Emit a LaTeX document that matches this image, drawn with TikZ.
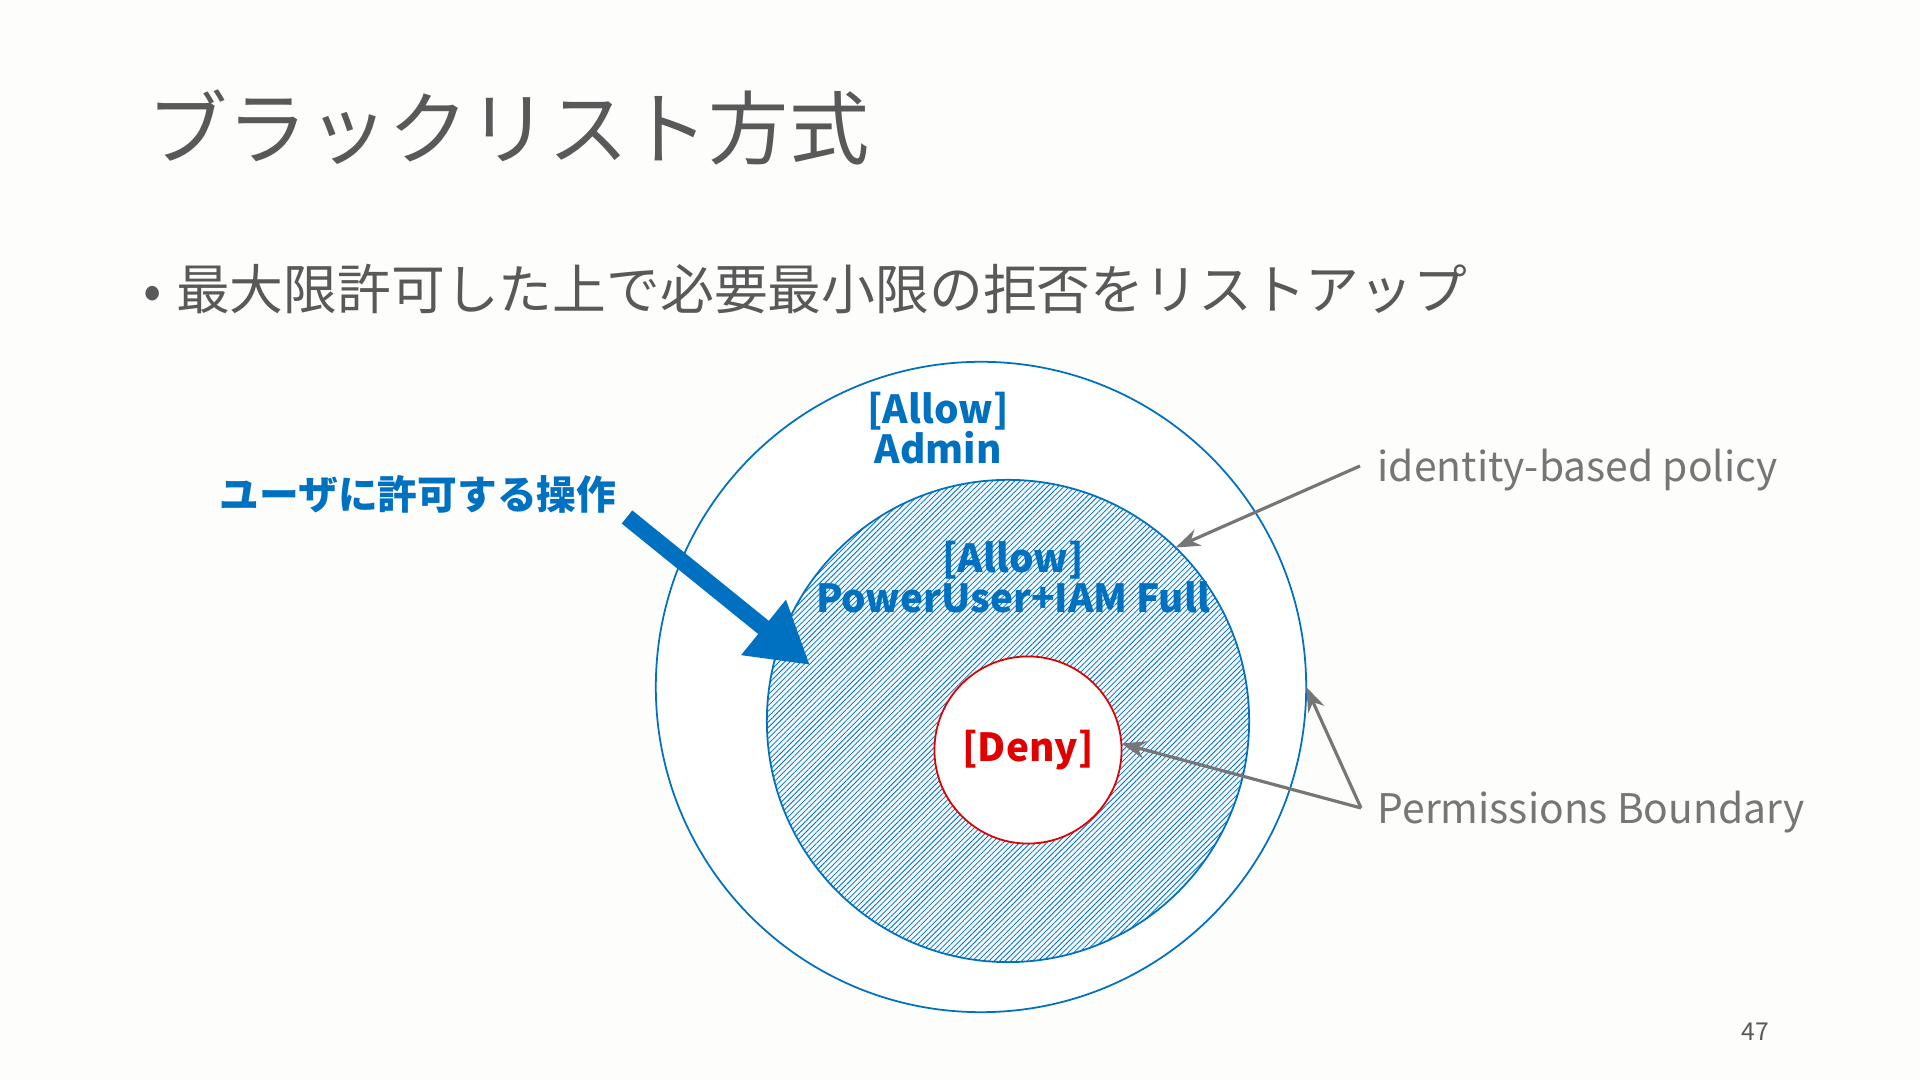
\documentclass[tikz,border=0pt]{standalone}
\usepackage{fontspec}
\setmainfont{Noto Sans CJK JP}
\usepackage{xcolor}
\usepackage{tikz}
\usetikzlibrary{arrows.meta,positioning,patterns.meta}
\definecolor{pptblue}{HTML}{0070C0}
\definecolor{pptred}{HTML}{E00000}
\definecolor{pptgray}{HTML}{595959}
\definecolor{notegray}{HTML}{767676}
\definecolor{slidebg}{HTML}{FDFDFB}

\begin{document}
\begin{tikzpicture}[
    x=0.01cm, y=-0.01cm,
    ring/.style={circle, draw=pptblue, line width=0.5pt, inner sep=0pt, outer sep=0pt},
    bluetext/.style={text=pptblue, font=\fontsize{11}{11.5}\selectfont\bfseries, align=center, inner sep=0pt},
    note/.style={text=notegray, font=\fontsize{11.6}{13}\selectfont, anchor=west, inner sep=0pt},
    pointer/.style={-{Stealth[length=7pt,width=5pt]}, draw=notegray, line width=0.9pt},
]
% Slide
\fill[slidebg] (0,0) rectangle (1920,1080);
\useasboundingbox (0,0) rectangle (1920,1080);

% Title and bullet
\node[anchor=west, inner sep=0pt, text=pptgray, font=\fontsize{22.8}{27}\selectfont] (title) at (147,128) {ブラックリスト方式};
\node[anchor=west, inner sep=0pt, text=pptgray, font=\fontsize{15.3}{18}\selectfont] (bullet) at (143,289) {•\hspace{4pt}最大限許可した上で必要最小限の拒否をリストアップ};

% Circles
\node[ring, fill=white, minimum size=6.5cm] (outer) at (981,687) {};
\node[ring, minimum size=4.82cm, preaction={fill=pptblue!5}, pattern={Lines[angle=45,distance=1.1pt,line width=0.22pt]}, pattern color=pptblue] (inner) at (1008,721) {};
\node[ring, draw=pptred, fill=white, minimum size=1.87cm] (deny) at (1028,750) {};

% Circle labels
\node[bluetext] (allowadmin) at (938,428) {[Allow]\\Admin};
\node[bluetext] (allowpower) at (1013,577) {[Allow]\\PowerUser+IAM Full};
\node[bluetext, text=pptred] (denytext) at (deny) {[Deny]};

% User arrow
\node[bluetext, anchor=east, font=\fontsize{11.3}{12}\selectfont\bfseries] (userlabel) at (617,494) {ユーザに許可する操作};
\coordinate (userfrom) at (627,517);
\coordinate (userto) at (810,665);
\draw[draw=pptblue, line width=4.8pt, -{Triangle[length=17pt,width=19pt]}] (userfrom) -- (userto);

% Policy notes
\node[note] (idlabel) at (1377,470) {identity-based policy};
\node[note] (pblabel) at (1377,812) {Permissions Boundary};
\coordinate (idfrom) at (1360,466);
\coordinate (pbfrom) at (1361,808);
\draw[pointer] (idfrom) -- (inner.46);
\draw[pointer] (pbfrom) -- (outer.0);
\draw[pointer] (pbfrom) -- (deny.4);

% Page number
\node[text=pptgray, font=\fontsize{7}{8}\selectfont, inner sep=0pt] (pagenum) at (1755,1032) {47};
\end{tikzpicture}
\end{document}
